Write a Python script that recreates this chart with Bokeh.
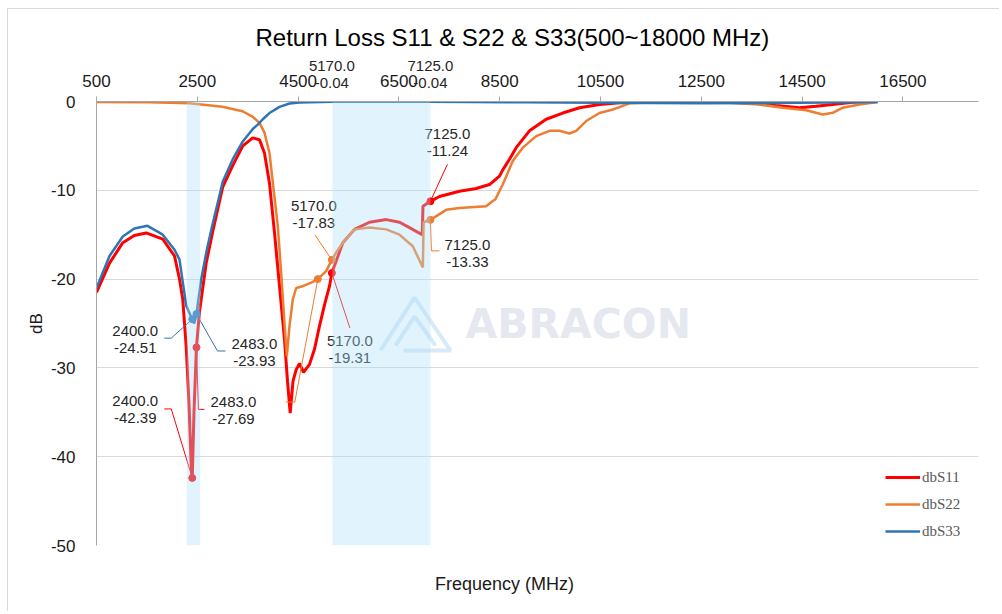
from bokeh.plotting import figure
from bokeh.models import Legend, LegendItem, FixedTicker, Range1d, Title, LinearAxis
from bokeh.core.properties import value
from bokeh.embed import file_html
from bokeh.resources import INLINE

# ---------------- data ----------------
freq_s11 = [500, 758, 1022, 1250, 1486, 1815, 2048, 2147, 2212, 2280, 2335, 2379, 2400,
            2434, 2483, 2541, 2676, 2808, 3006, 3204, 3403, 3601, 3734, 3833, 3932, 4032,
            4131, 4230, 4290, 4343, 4399, 4462, 4528, 4607, 4726, 4825, 4924, 5024, 5123,
            5170, 5387, 5619, 5916, 6248, 6512, 6710, 6962, 6978, 7125, 7305, 7702, 8033,
            8297, 8496, 8561, 8694, 8827, 9091, 9422, 9751, 10083, 10480, 10876, 11471,
            12464, 13455, 13985, 14446, 14778, 15102, 15505, 16000]
s11_db = [-21.5, -18.2, -15.9, -15.1, -14.8, -15.5, -17.4, -20.0, -22.3, -27.6, -34.0, -41.0, -42.39,
          -35.0, -27.69, -23.8, -18.2, -14.6, -9.6, -7.2, -5.0, -4.1, -4.3, -5.8, -9.2, -14.8,
          -20.8, -26.8, -31.5, -35.1, -31.5, -30.2, -29.5, -30.5, -29.6, -27.9, -25.3, -22.9, -20.8,
          -19.31, -15.9, -14.4, -13.6, -13.3, -13.6, -14.2, -15.0, -11.8, -11.24, -10.7, -10.1, -9.8,
          -9.35, -8.4, -7.7, -6.5, -5.2, -3.3, -2.0, -1.3, -0.7, -0.34, -0.15, -0.08,
          -0.05, -0.15, -0.45, -0.7, -0.53, -0.34, -0.08, 0.0]

freq_s22 = [500, 1552, 2345, 3000, 3397, 3595, 3734, 3833, 3932, 3992, 4097, 4164, 4230, 4276,
            4329, 4395, 4462, 4593, 4760, 4891, 5056, 5170, 5256, 5387, 5619, 5916, 6248, 6512,
            6776, 6975, 6990, 7125, 7438, 7702, 8231, 8362, 8416, 8561, 8759, 8958, 9223, 9488,
            9686, 9885, 10017, 10216, 10480, 10744, 10876, 11075, 11670, 12860, 13654, 14116,
            14581, 14910, 15108, 15306, 15638, 16000]
s22_db = [-0.05, -0.08, -0.2, -0.6, -1.1, -1.7, -2.4, -3.5, -5.8, -8.8, -14.0, -19.3, -25.0, -28.7,
          -25.3, -22.3, -21.0, -20.8, -20.4, -20.0, -19.1, -17.83, -17.0, -15.9, -14.4, -14.2, -14.4, -15.0,
          -16.3, -18.7, -13.6, -13.33, -12.2, -12.0, -11.8, -11.2, -11.0, -9.35, -6.7, -5.2, -3.9, -3.3,
          -3.3, -3.6, -3.3, -2.2, -1.3, -0.9, -0.64, -0.2, -0.08, -0.08, -0.34, -0.7,
          -0.98, -1.46, -1.27, -0.7, -0.34, -0.05]

freq_s33 = [500, 758, 1022, 1250, 1512, 1815, 2048, 2147, 2280, 2400, 2440, 2483, 2578, 2689,
            2796, 3006, 3204, 3403, 3601, 3700, 3799, 3932, 4131, 4329, 4528, 5170, 7125, 9000,
            10480, 12500, 14446, 16000]
s33_db = [-21.0, -17.4, -15.2, -14.3, -14.0, -15.0, -16.7, -17.8, -23.0, -24.51, -25.0, -23.93, -20.0, -16.7,
          -14.0, -9.0, -6.5, -4.5, -3.1, -2.6, -2.0, -1.3, -0.6, -0.23, -0.1, -0.04, -0.04, -0.08,
          -0.15, -0.2, -0.15, -0.05]

series_names = ["dbS11", "dbS22", "dbS33"]
series_colors = ["#ff0000", "#ed7d31", "#2e75b6"]

x_ticks = [500, 2500, 4500, 6500, 8500, 10500, 12500, 14500, 16500]
y_ticks = [-50, -40, -30, -20, -10, 0]
y_tick_labels = ["-50", "-40", "-30", "-20", "-10", "0"]

band_left = [2290, 5180]
band_right = [2560, 7125]

# marker annotations: series index, frequency, value
ann_series = [2, 2, 0, 0, 1, 0, 0, 1, 1]
ann_freq = [2400.0, 2483.0, 2400.0, 2483.0, 5170.0, 5170.0, 7125.0, 7125.0, 4891.0]
ann_value = [-24.51, -23.93, -42.39, -27.69, -17.83, -19.31, -11.24, -13.33, -20.0]
ann_show_text = [True, True, True, True, True, True, True, True, False]

# S33 points labelled above the plot
top_freq = [5170.0, 7125.0]
top_value = [-0.04, -0.04]

x_title = "Frequency (MHz)"
y_title = "dB"
chart_title = "Return Loss S11 & S22 & S33(500~18000 MHz)"

# ---------------- layout / styling ----------------
X0, X1 = 500, 18000
Y0, Y1 = -50, 0
FW, FH = 882, 444
sx_per_px = (X1 - X0) / FW
sy_per_px = (Y1 - Y0) / FH

def fx(px):
    # page pixel (frame left at 97) -> frequency
    return X0 + (px - 97) * sx_per_px

def fy(py):
    # page pixel (frame top at 102) -> dB
    return Y1 - (py - 102) * sy_per_px

# label centre offsets (px, y down) and leader paths relative to marker
ann_label_off = [(-57, 12), (58, 30), (-57, -77), (37, 55), (-18, -54), (18, 68), (17, -67), (37, 25), None]
ann_leader = [
    [(-21, 19), (-28, 19)],
    [(21, 37), (29, 37)],
    [(-21, -69), (-28, -69)],
    [(2, 62), (8, 62)],
    [(-17, -25)],
    [(18, 55)],
    [(17, -37)],
    [(1, 31), (9, 31)],
    [(-23, 123), (-32, 123)],
]
LINE_GAP = 17

FONT = "Liberation Sans"

p = figure(width=992, height=603, output_backend="svg", toolbar_location=None,
           x_range=Range1d(X0, X1), y_range=Range1d(Y0, Y1),
           x_axis_location="above", min_border_left=88, min_border_right=22,
           min_border_top=92, min_border_bottom=67,
           margin=(8, 0, 0, 7),
           styles={"border-top": "1px solid #d9d9d9", "border-left": "1px solid #d9d9d9"})
p.outline_line_color = None
p.background_fill_color = "white"
p.border_fill_color = "white"

p.xaxis.ticker = FixedTicker(ticks=x_ticks)
p.xaxis.minor_tick_line_color = None
p.xaxis.major_tick_out = 5
p.xaxis.major_tick_in = 0
p.xaxis.axis_line_color = "#a6a6a6"
p.xaxis.major_tick_line_color = "#a6a6a6"
p.xaxis.major_label_text_font = FONT
p.xaxis.major_label_text_font_size = "17px"
p.xaxis.major_label_text_color = "#1a1a1a"
p.xaxis.major_label_standoff = 10

p.yaxis.ticker = FixedTicker(ticks=y_ticks)
p.yaxis.major_label_overrides = {t: s for t, s in zip(y_ticks, y_tick_labels)}
p.yaxis.minor_tick_line_color = None
p.yaxis.major_tick_out = 0
p.yaxis.major_tick_in = 0
p.yaxis.axis_line_color = "#a6a6a6"
p.yaxis.major_label_text_font = FONT
p.yaxis.major_label_text_font_size = "17px"
p.yaxis.major_label_text_color = "#1a1a1a"
p.yaxis.major_label_standoff = 21
p.yaxis.axis_label = y_title
p.yaxis.axis_label_text_font = FONT
p.yaxis.axis_label_text_font_size = "17px"
p.yaxis.axis_label_text_font_style = "normal"
p.yaxis.axis_label_text_color = "#1a1a1a"
p.yaxis.axis_label_standoff = 2

p.xgrid.visible = False
p.ygrid.ticker = FixedTicker(ticks=y_ticks)
p.ygrid.grid_line_color = "#d9d9d9"

# S33 data labels above the plot, on an extra axis stacked over the main one
top_axis = LinearAxis(ticker=FixedTicker(ticks=top_freq),
                      major_label_overrides={f: "%.1f\n%.2f" % (f, v) for f, v in zip(top_freq, top_value)},
                      axis_line_color=None, major_tick_line_color=None, minor_tick_line_color=None,
                      major_tick_out=0, major_tick_in=0,
                      major_label_standoff=-19, major_label_text_font=FONT,
                      major_label_text_line_height=1.0,
                      major_label_text_font_size="15px", major_label_text_color="#262626")
p.add_layout(top_axis, "above")

title = Title(text=chart_title, align="left", offset=159,
              text_font=FONT, text_font_size="24px", text_font_style="normal",
              text_color="#000000", standoff=6)
p.add_layout(title, "above")

# x-axis title below the plot (centred where the original places it)
x_title_pos = fx(505)
bottom_axis = LinearAxis(ticker=FixedTicker(ticks=[x_title_pos]),
                         major_label_overrides={x_title_pos: x_title},
                         axis_line_color=None, major_tick_line_color=None, minor_tick_line_color=None,
                         major_tick_out=0, major_tick_in=0, major_label_standoff=28,
                         major_label_text_font=FONT, major_label_text_font_size="18px",
                         major_label_text_color="#1a1a1a")
p.add_layout(bottom_axis, "below")

# watermark (decoration)
p.text(x=[fx(466)], y=[fy(324)], text=["ABRACON"], text_font=value("DejaVu Sans"),
       text_font_style="bold", text_font_size="41px", text_color="#e6e8ef",
       text_align="left", text_baseline="middle")
logo_x = [[fx(381), fx(415), fx(451)], [fx(396), fx(415), fx(436)], [fx(404), fx(452)]]
logo_y = [[fy(351), fy(298), fy(351)], [fy(346), fy(317), fy(346)], [fy(351), fy(351)]]
p.multi_line(xs=logo_x, ys=logo_y, line_color="#d8e9f7", line_width=4)

# curves
freqs = [freq_s11, freq_s22, freq_s33]
vals = [s11_db, s22_db, s33_db]
widths = [3, 2.5, 2.5]
renderers = []
for f, v, c, w in zip(freqs, vals, series_colors, widths):
    renderers.append(p.line(f, v, line_color=c, line_width=w))

# leaders, markers, labels
lead_xs, lead_ys, lead_c = [], [], []
mk_x, mk_y, mk_c = [], [], []
tx, ty, tt, txo, tyo = [], [], [], [], []
for i in range(len(ann_freq)):
    f, v, s = ann_freq[i], ann_value[i], ann_series[i]
    xs = [f] + [f + dx * sx_per_px for dx, dy in ann_leader[i]]
    ys = [v] + [v - dy * sy_per_px for dx, dy in ann_leader[i]]
    lead_xs.append(xs)
    lead_ys.append(ys)
    lead_c.append(series_colors[s])
    mk_x.append(f)
    mk_y.append(v)
    mk_c.append(series_colors[s])
    if ann_show_text[i]:
        ox, oy = ann_label_off[i]
        tx += [f, f]
        ty += [v, v]
        tt += ["%.1f" % f, "%.2f" % v]
        txo += [ox, ox]
        tyo += [oy, oy + LINE_GAP]

p.multi_line(xs=lead_xs, ys=lead_ys, line_color=lead_c, line_width=1)
p.scatter(mk_x, mk_y, size=7, color=mk_c, marker="circle")
p.text(x=tx, y=ty, text=tt, x_offset=txo, y_offset=tyo, text_font=value(FONT),
       text_font_size="15px", text_color="#262626", text_align="center", text_baseline="middle")

# shaded bands on top (semi-transparent)
p.quad(left=band_left, right=band_right, bottom=[Y0] * 2, top=[Y1] * 2,
       fill_color="#abe0f9", fill_alpha=0.36, line_color=None)

legend = Legend(items=[LegendItem(label=n, renderers=[r]) for n, r in zip(series_names, renderers)],
                location=(789, 4), orientation="vertical", padding=0, margin=0, spacing=7,
                glyph_width=35, glyph_height=20, label_height=20, label_standoff=2,
                label_text_font="Liberation Serif", label_text_font_size="15px",
                label_text_color="#595959", border_line_color=None, background_fill_alpha=0)
p.add_layout(legend)

open("out.html", "w").write(file_html(p, INLINE))
